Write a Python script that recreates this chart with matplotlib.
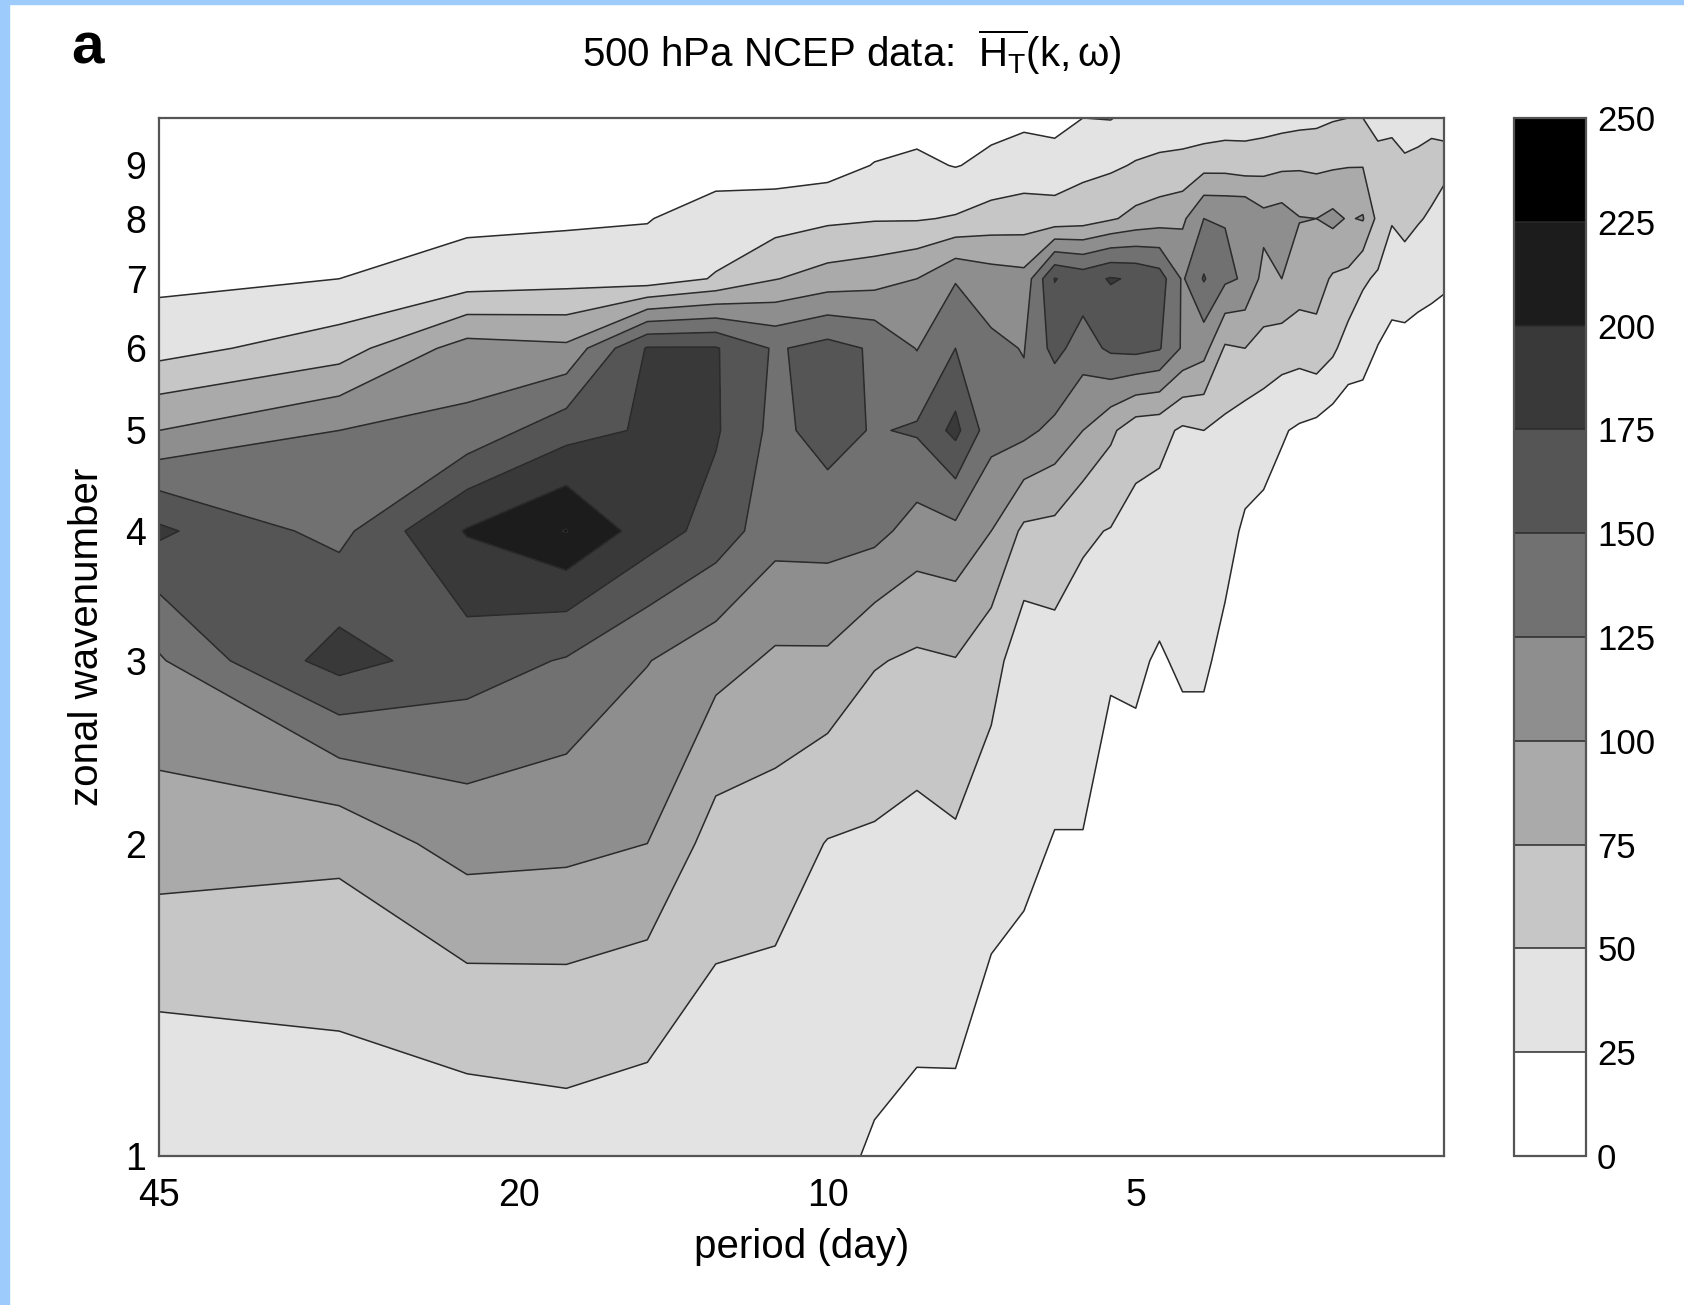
import numpy as np
import matplotlib
matplotlib.use("Agg")
import matplotlib.pyplot as plt
from matplotlib.colors import ListedColormap, BoundaryNorm
from matplotlib.patches import Rectangle
from matplotlib.ticker import NullLocator

plt.rcParams['font.family'] = ['Liberation Sans', 'DejaVu Sans']
plt.rcParams['mathtext.fontset'] = 'custom'
plt.rcParams['mathtext.rm'] = 'Liberation Sans'
plt.rcParams['mathtext.it'] = 'Liberation Sans'
plt.rcParams['mathtext.default'] = 'regular'

# period of each spectral column (days)
period = [45, 30, 22.5, 18, 15, 12.86, 11.25, 10, 9, 8.18, 7.5, 6.92, 6.43, 6,
          5.63, 5.29, 5, 4.74, 4.5, 4.29, 4.09, 3.91, 3.75, 3.6, 3.46, 3.33,
          3.21, 3.1, 3.0, 2.9, 2.81, 2.73, 2.65, 2.57, 2.5]
wavenumber = [1, 2, 3, 4, 5, 6, 7, 8, 9, 10]

# H_T(k, w), one row per period, values for k = 1..10
H = [
    [27, 88, 122, 180, 100, 40, 19, 10, 6, 4],
    [35, 82, 185, 142, 125, 62, 25, 12, 6, 4],
    [35, 110, 163, 202, 132, 110, 35, 20, 10, 5],
    [39, 107, 148, 226, 165, 105, 40, 21, 11, 5],
    [35, 100, 126, 189, 178, 177, 35, 24, 12, 6],
    [33, 65, 110, 165, 178, 177, 52, 34, 16, 8],
    [31, 63, 96, 135, 143, 147, 74, 38, 14, 7],
    [30, 49, 96, 136, 160, 159, 85, 45, 15, 8],
    [23, 47, 77, 133, 148, 147, 90, 48, 26, 12],
    [20, 43, 71, 115, 153, 124, 100, 48, 30, 15],
    [19, 47, 74, 119, 182, 150, 123, 52, 24, 12],
    [12, 35, 60, 100, 135, 130, 112, 60, 30, 18],
    [12, 30, 35, 70, 132, 124, 108, 62, 36, 20],
    [8, 24, 40, 68, 118, 158, 176, 58, 39, 14],
    [6, 24, 40, 53, 100, 138, 165, 62, 44, 25],
    [5, 18, 27, 49, 80, 155, 177, 72, 46, 24],
    [5, 18, 28, 42, 60, 158, 172, 82, 52, 32],
    [4, 14, 23, 38, 58, 152, 162, 88, 55, 36],
    [4, 13, 28, 37, 46, 122, 122, 95, 55, 40],
    [4, 13, 28, 36, 50, 110, 152, 125, 66, 30],
    [3, 10, 20, 32, 45, 72, 130, 124, 66, 35],
    [2, 8, 15, 22, 37, 75, 122, 125, 62, 38],
    [2, 6, 12, 20, 33, 68, 92, 108, 66, 38],
    [2, 5, 10, 16, 27, 62, 100, 112, 70, 40],
    [1, 4, 8, 14, 22, 60, 88, 101, 72, 42],
    [1, 4, 8, 12, 18, 66, 85, 100, 70, 44],
    [1, 3, 6, 10, 12, 55, 72, 106, 72, 48],
    [1, 3, 5, 8, 10, 38, 70, 98, 74, 50],
    [1, 2, 4, 7, 9, 36, 53, 102, 74, 50],
    [1, 2, 3, 5, 6, 24, 47, 68, 70, 30],
    [1, 2, 3, 4, 5, 18, 36, 52, 66, 38],
    [1, 2, 3, 4, 5, 18, 38, 58, 55, 35],
    [1, 2, 3, 4, 5, 16, 34, 52, 56, 40],
    [1, 1, 2, 3, 4, 15, 31, 47, 60, 42],
    [1, 1, 2, 3, 4, 12, 29, 42, 55, 45],
]

levels = [0, 25, 50, 75, 100, 125, 150, 175, 200, 225, 250]
grays = ['#ffffff', '#e3e3e3', '#c6c6c6', '#aaaaaa', '#8e8e8e',
         '#717171', '#555555', '#393939', '#1c1c1c', '#000000']
xticks = [45, 20, 10, 5]

Z = np.array(H).T

fig = plt.figure(figsize=(16.84, 13.05), dpi=100)
ax = fig.add_axes([0.0944, 0.1142, 0.763, 0.7954])

cmap = ListedColormap(grays)
norm = BoundaryNorm(levels, cmap.N)
cf = ax.contourf(period, wavenumber, Z, levels=levels, cmap=cmap, norm=norm)
cs = ax.contour(period, wavenumber, Z, levels=levels[1:-1], colors='#2b2b2b',
                linewidths=1.1)

ax.set_xscale('log')
ax.set_yscale('log')
ax.set_xlim(45, 2.5)
ax.set_ylim(1, 10)
ax.set_xticks(xticks)
ax.set_xticklabels([str(t) for t in xticks])
ax.set_yticks(wavenumber[:-1])
ax.set_yticklabels([str(k) for k in wavenumber[:-1]])
ax.xaxis.set_minor_locator(NullLocator())
ax.yaxis.set_minor_locator(NullLocator())
ax.tick_params(axis='x', length=0, labelsize=27, pad=16)
ax.tick_params(axis='y', length=0, labelsize=27, pad=9)
for s in ax.spines.values():
    s.set_color('#555555')
    s.set_linewidth(1.6)

ax.set_xlabel('period (day)', fontsize=29, labelpad=10)
ax.set_ylabel('zonal wavenumber', fontsize=29, labelpad=14)

cax = fig.add_axes([0.899, 0.1142, 0.0428, 0.7954])
cb = fig.colorbar(cf, cax=cax, ticks=levels)
cb.add_lines(cs)
cb.outline.set_edgecolor('#555555')
cb.outline.set_linewidth(1.6)
cb.ax.tick_params(length=0, labelsize=25, pad=8)

fig.text(0.052, 0.963, 'a', fontsize=42, fontweight='bold', ha='center', va='center')
fig.text(0.506, 0.960,
         r'500 hPa NCEP data:  $\overline{H_{T}}(k,\omega)$',
         fontsize=29, ha='center', va='center')

# light blue frame on the left and top edges
fig.patches.append(Rectangle((0, 0), 0.0053, 1, transform=fig.transFigure,
                             color='#9dccfc', zorder=0))
fig.patches.append(Rectangle((0, 0.997), 1, 0.003, transform=fig.transFigure,
                             color='#9dccfc', zorder=0))

fig.savefig('out.png', dpi=100)
